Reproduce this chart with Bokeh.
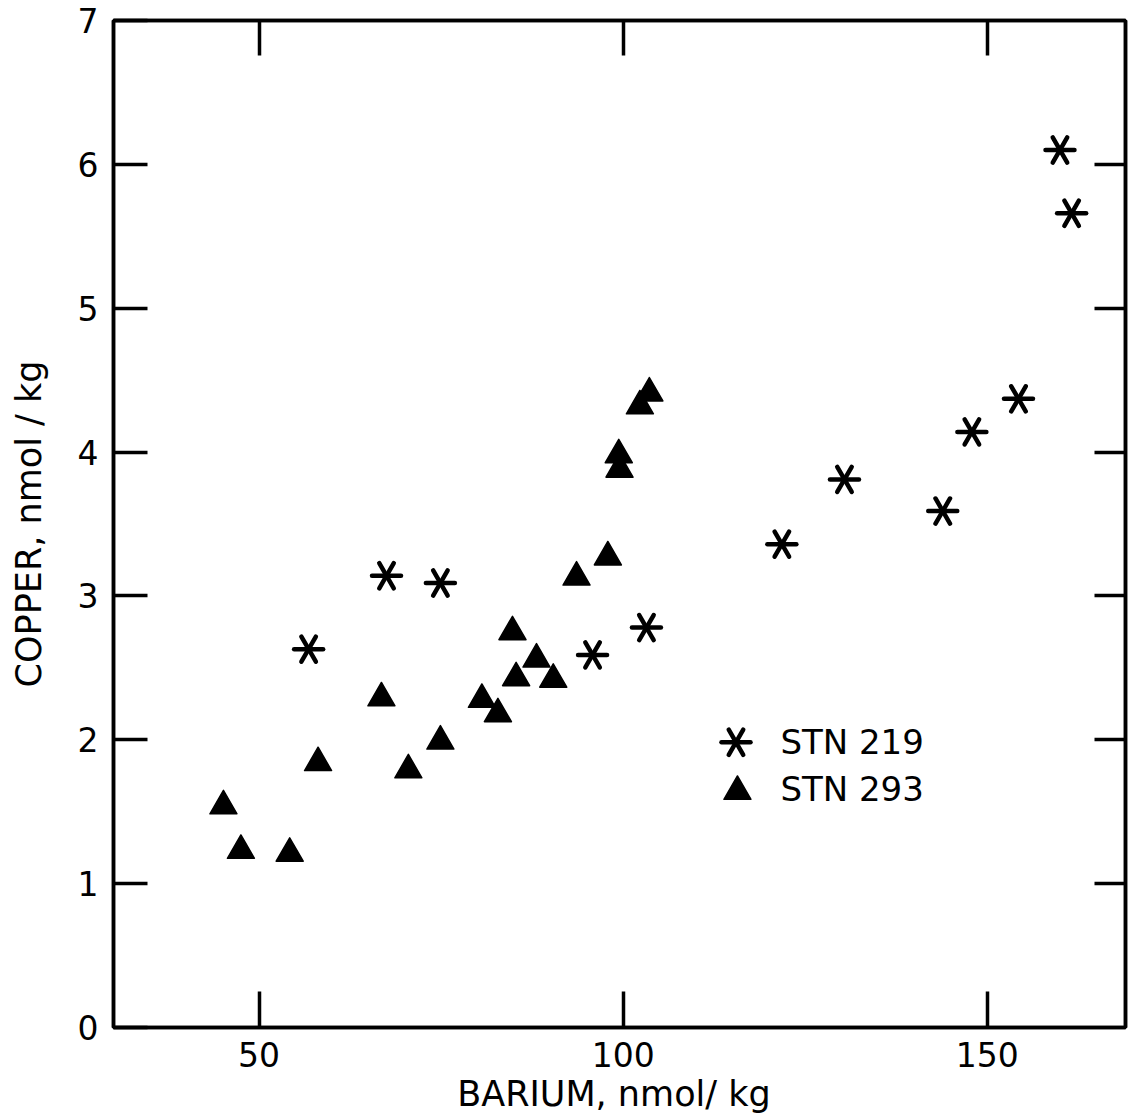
import math
from bokeh.plotting import figure
from bokeh.models import LinearAxis, FixedTicker, Range1d, CustomJSTickFormatter
from bokeh.embed import file_html
from bokeh.resources import INLINE
from bokeh.core.properties import value

# ---- data ----
stn219_barium = [56.8, 67.5, 74.9, 95.8, 103.2, 121.8, 130.4, 143.9, 147.9, 154.3, 160.0, 161.6]
stn219_copper = [2.63, 3.14, 3.09, 2.59, 2.78, 3.36, 3.81, 3.59, 4.14, 4.37, 6.10, 5.66]

stn293_barium = [45.1, 47.5, 54.2, 58.1, 66.8, 70.5, 74.9, 80.6, 82.8, 84.8, 85.3, 88.1,
                 90.4, 93.6, 97.9, 99.4, 99.5, 102.3, 103.6]
stn293_copper = [1.54, 1.23, 1.21, 1.84, 2.29, 1.79, 1.99, 2.28, 2.18, 2.75, 2.43, 2.56,
                 2.42, 3.13, 3.27, 3.98, 3.88, 4.32, 4.41]

x_ticks = [50, 100, 150]
y_ticks = [0, 1, 2, 3, 4, 5, 6, 7]
y_inner_ticks = [1, 2, 3, 4, 5, 6]

x_title = "BARIUM,  nmol/ kg"
y_title = "COPPER, nmol / kg"

legend_labels = ["STN 219", "STN 293"]
legend_marker_x = [115.5, 115.7]
legend_marker_y = [1.983, 1.64]
legend_text_x = [121.6, 121.6]
legend_text_y = [1.982, 1.655]

FONT = "DejaVu Sans"
BLACK = "black"
LW = 3.5

p = figure(width=1128, height=1120, x_range=Range1d(30, 169), y_range=Range1d(0, 7),
           output_backend="svg", toolbar_location=None,
           min_border_left=113, min_border_right=3, min_border_top=20, min_border_bottom=93,
           background_fill_color="white", border_fill_color="white")
p.grid.visible = False
p.outline_line_color = BLACK
p.outline_line_width = LW


def style_axis(ax, ticks, tick_len, labels=True):
    ax.ticker = FixedTicker(ticks=ticks, minor_ticks=[])
    ax.axis_line_color = BLACK
    ax.axis_line_width = LW
    ax.major_tick_in = tick_len
    ax.major_tick_out = 0
    ax.major_tick_line_width = LW
    ax.major_tick_line_color = BLACK
    ax.minor_tick_line_color = None
    if labels:
        ax.major_label_text_font = FONT
        ax.major_label_text_font_size = "33px"
        ax.major_label_text_color = BLACK
    else:
        ax.formatter = CustomJSTickFormatter(code="return ''")
        ax.major_label_text_font_size = "0px"
        ax.major_label_standoff = 0


xa = p.xaxis[0]
style_axis(xa, x_ticks, 36)
xa.major_label_standoff = 14
xa.axis_label = x_title
xa.axis_label_text_font = FONT
xa.axis_label_text_font_size = "35px"
xa.axis_label_text_font_style = "normal"
xa.axis_label_text_color = BLACK
xa.axis_label_standoff = 4

ya = p.yaxis[0]
style_axis(ya, y_ticks, 34)
ya.major_label_standoff = 15
ya.major_label_orientation = "horizontal"
ya.axis_label = y_title
ya.axis_label_text_font = FONT
ya.axis_label_text_font_size = "35px"
ya.axis_label_text_font_style = "normal"
ya.axis_label_text_color = BLACK
ya.axis_label_standoff = 26

top_axis = LinearAxis()
style_axis(top_axis, x_ticks, 35, labels=False)
p.add_layout(top_axis, "above")

right_axis = LinearAxis()
style_axis(right_axis, y_inner_ticks, 31, labels=False)
p.add_layout(right_axis, "right")

# STN 219: six-armed asterisk built from three rotated dashes
for a in (0.0, math.pi / 3, 2 * math.pi / 3):
    p.scatter(stn219_barium, stn219_copper, marker="dash", size=29, angle=a,
              line_color=BLACK, line_width=4.5, line_cap="round")
    p.scatter(legend_marker_x[:1], legend_marker_y[:1], marker="dash", size=29, angle=a,
              line_color=BLACK, line_width=4.5, line_cap="round")

# STN 293: filled triangles
p.scatter(stn293_barium, stn293_copper, marker="triangle", size=27,
          fill_color=BLACK, line_color=BLACK, line_width=1.5, line_join="round")
p.scatter(legend_marker_x[1:], legend_marker_y[1:], marker="triangle", size=27,
          fill_color=BLACK, line_color=BLACK, line_width=1.5, line_join="round")

p.text(legend_text_x, legend_text_y, text=legend_labels, text_font=value(FONT),
       text_font_size="34px", text_color=BLACK, text_align="left",
       text_baseline="alphabetic")

open("out.html", "w").write(file_html(p, INLINE))
